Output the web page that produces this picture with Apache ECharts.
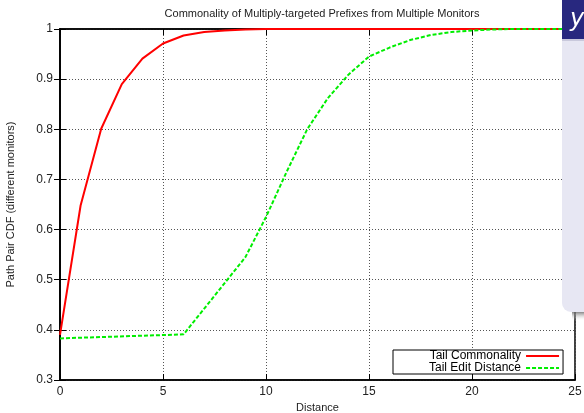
<!DOCTYPE html>
<html>
<head>
<meta charset="utf-8">
<script src="https://cdn.jsdelivr.net/npm/echarts@6/dist/echarts.min.js"></script>
<style>
  html, body { margin: 0; padding: 0; background: #fff; }
  #chart { width: 584px; height: 413px; }
</style>
</head>
<body>
<div id="chart"></div>
<script>
// values
var seriesNames = ['Tail Commonality', 'Tail Edit Distance'];
var commX = [0, 1, 2, 3, 4, 5, 6, 7, 8, 9, 10, 11, 12, 13, 14, 15, 16, 17, 18, 19, 20, 21, 22, 23, 24, 25];
var commY = [0.39, 0.648, 0.801, 0.89, 0.941, 0.971, 0.987, 0.994, 0.997, 0.999, 1, 1, 1, 1, 1, 1, 1, 1, 1, 1, 1, 1, 1, 1, 1, 1];
var editX = [0, 6, 9, 10, 11, 12, 13, 14, 15, 16, 17, 18, 19, 20, 21, 22, 23, 24, 25];
var editY = [0.383, 0.391, 0.545, 0.625, 0.715, 0.8, 0.862, 0.909, 0.945, 0.963, 0.978, 0.988, 0.994, 0.997, 0.999, 1, 1, 1, 1];

function pairs(xs, ys) {
  var out = [];
  for (var i = 0; i < xs.length; ++i) out.push([xs[i], ys[i]]);
  return out;
}

var font = '"Liberation Sans", Arial, sans-serif';
var myChart = echarts.init(document.getElementById('chart'));

var gridLine = { show: true, lineStyle: { color: '#555', type: [1, 2], width: 1 } };

var option = {
  animation: false,
  title: {
    text: 'Commonality of Multiply-targeted Prefixes from Multiple Monitors',
    left: 317, top: 3, textAlign: 'center',
    textStyle: { fontFamily: font, fontSize: 11, fontWeight: 'normal', color: '#222' }
  },
  grid: {
    left: 60, right: 9, top: 29, bottom: 33,
    outerBoundsMode: 'none', containLabel: false,
    show: true, borderColor: '#000', borderWidth: 1.5
  },
  legend: {
    orient: 'vertical', left: 393, top: 350,
    align: 'right', itemWidth: 33, itemHeight: 12, itemGap: 0,
    padding: [0, 3, 0, 36],
    backgroundColor: '#fff',
    borderColor: '#000', borderWidth: 1, borderRadius: 0,
    itemStyle: { opacity: 0 },
    textStyle: { fontFamily: font, fontSize: 12, color: '#000' },
    data: seriesNames
  },
  xAxis: [{
    type: 'value', min: 0, max: 25, interval: 5,
    name: 'Distance', nameLocation: 'middle', nameGap: 18,
    nameTextStyle: { fontFamily: font, fontSize: 11, color: '#222' },
    axisLine: { show: true, lineStyle: { color: '#000', width: 1.5 } },
    axisTick: { show: true, inside: true, length: 6, lineStyle: { color: '#000' } },
    axisLabel: { fontFamily: font, fontSize: 12, color: '#222', margin: 6 },
    splitLine: gridLine
  }, {
    type: 'value', min: 0, max: 25, interval: 5, position: 'top',
    axisLine: { show: true, lineStyle: { color: '#000', width: 1.5 } },
    axisTick: { show: true, inside: true, length: 6, lineStyle: { color: '#000' } },
    axisLabel: { show: false },
    splitLine: { show: false }
  }],
  yAxis: [{
    type: 'value', min: 0.3, max: 1, interval: 0.1,
    name: 'Path Pair CDF (different monitors)', nameLocation: 'middle', nameGap: 44,
    nameTextStyle: { fontFamily: font, fontSize: 11, color: '#222' },
    axisLine: { show: true, lineStyle: { color: '#000', width: 1.5 } },
    axisTick: { show: true, inside: true, length: 6, lineStyle: { color: '#000' } },
    axisLabel: {
      fontFamily: font, fontSize: 12, color: '#222', margin: 7,
      formatter: function (v) { return String(+v.toFixed(1)); }
    },
    splitLine: gridLine
  }, {
    type: 'value', min: 0.3, max: 1, interval: 0.1, position: 'right',
    axisLine: { show: true, lineStyle: { color: '#000', width: 1.5 } },
    axisTick: { show: true, inside: true, length: 6, lineStyle: { color: '#000' } },
    axisLabel: { show: false },
    splitLine: { show: false }
  }],
  series: [{
    name: seriesNames[0],
    type: 'line',
    symbol: 'circle',
    showSymbol: false,
    color: '#ff0000',
    lineStyle: { color: '#ff0000', width: 2 },
    data: pairs(commX, commY)
  }, {
    name: seriesNames[1],
    type: 'line',
    symbol: 'circle',
    showSymbol: false,
    color: '#00ee00',
    lineStyle: { color: '#00ee00', width: 2, type: [4, 2] },
    data: pairs(editX, editY)
  }],
  // slide panel overlapping the top-right corner
  graphic: [{
    type: 'rect', z: 100,
    shape: { x: 572, y: 311, width: 20, height: 10 },
    style: {
      fill: new echarts.graphic.LinearGradient(0, 0, 0, 1, [
        { offset: 0, color: 'rgba(90,90,90,0.9)' },
        { offset: 1, color: 'rgba(255,255,255,0)' }
      ])
    }
  }, {
    type: 'rect', z: 101,
    shape: { x: 562, y: 36, width: 40, height: 276, r: [0, 0, 0, 9] },
    style: { fill: '#e7e7f3' }
  }, {
    type: 'rect', z: 102,
    shape: { x: 562, y: 0, width: 30, height: 39 },
    style: { fill: '#28287f' }
  }, {
    type: 'rect', z: 102,
    shape: { x: 562, y: 39, width: 30, height: 2 },
    style: { fill: '#c9c9dc' }
  }, {
    type: 'text', z: 103,
    x: 570, y: 20,
    style: {
      text: 'y', fill: '#fff', font: 'italic 24px "DejaVu Sans", sans-serif',
      verticalAlign: 'middle'
    }
  }]
};

myChart.setOption(option);
window.addEventListener('resize', function () {
  myChart.resize();
});
</script>
</body>
</html>
